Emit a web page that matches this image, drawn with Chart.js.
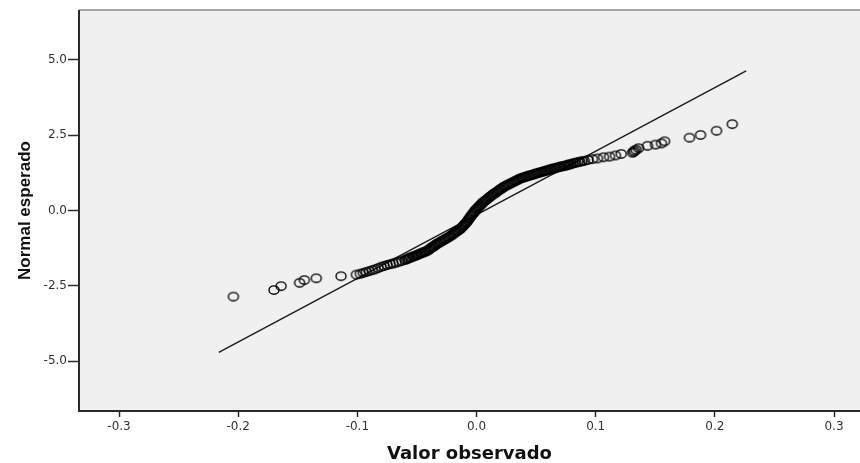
<!DOCTYPE html>
<html>
<head>
<meta charset="utf-8">
<script src="https://cdn.jsdelivr.net/npm/chart.js@4.4.8/dist/chart.umd.min.js"></script>
<style>
  html, body { margin: 0; padding: 0; background: #ffffff; }
  #wrap { width: 860px; height: 463px; }
</style>
</head>
<body>
<div id="wrap"><canvas id="chart" width="860" height="463"></canvas></div>
<script>
/*  Data  */

const xTickValues = [-0.3, -0.2, -0.1, 0.0, 0.1, 0.2, 0.3];
const yTickValues = [-5.0, -2.5, 0.0, 2.5, 5.0];

// observed value (x) / expected normal (y), lower tail
const lowerTailObs = [-0.2040, -0.1700, -0.1640, -0.1485, -0.1445, -0.1345, -0.1137,
    -0.1008, -0.0975, -0.0950, -0.0925, -0.0900, -0.0875, -0.0850, -0.0825, -0.0800,
    -0.0775, -0.0750, -0.0725, -0.0700, -0.0675, -0.0650, -0.0625];
const lowerTailExp = [-2.86, -2.64, -2.51, -2.40, -2.31, -2.25, -2.18,
    -2.13, -2.10, -2.07, -2.04, -2.01, -1.98, -1.95, -1.91, -1.87,
    -1.84, -1.81, -1.78, -1.76, -1.73, -1.70, -1.67];

// dense middle part
const bodyObs = [
    -0.0600, -0.0589, -0.0578, -0.0567, -0.0556, -0.0544, -0.0533, -0.0522, -0.0511,
    -0.0500, -0.0489, -0.0478, -0.0466, -0.0455, -0.0444, -0.0433, -0.0421,
    -0.0410, -0.0400, -0.0390, -0.0380, -0.0370, -0.0360, -0.0350, -0.0340,
    -0.0330, -0.0319, -0.0308, -0.0297, -0.0286, -0.0275, -0.0264, -0.0253, -0.0242, -0.0231,
    -0.0220, -0.0210, -0.0200, -0.0190, -0.0180, -0.0170, -0.0160, -0.0150, -0.0140,
    -0.0130, -0.0122, -0.0113, -0.0105, -0.0097, -0.0088,
    -0.0080, -0.0072, -0.0064, -0.0056, -0.0048,
    -0.0040, -0.0032, -0.0024, -0.0016, -0.0008,
    0.0000, 0.0009, 0.0017, 0.0026, 0.0034, 0.0043, 0.0051,
    0.0060, 0.0070, 0.0080, 0.0090, 0.0100, 0.0110, 0.0120,
    0.0130, 0.0140, 0.0150, 0.0160, 0.0170, 0.0180, 0.0190, 0.0200, 0.0210, 0.0220,
    0.0230, 0.0242, 0.0253, 0.0265, 0.0277, 0.0288, 0.0300, 0.0312, 0.0323, 0.0335, 0.0347, 0.0358,
    0.0370, 0.0382, 0.0393, 0.0405, 0.0417, 0.0428, 0.0440, 0.0452, 0.0463, 0.0475, 0.0487, 0.0498,
    0.0510, 0.0522, 0.0533, 0.0545, 0.0557, 0.0568, 0.0580, 0.0592, 0.0603, 0.0615, 0.0627, 0.0638,
    0.0650, 0.0662, 0.0673, 0.0685, 0.0697, 0.0708, 0.0720, 0.0732, 0.0743, 0.0755, 0.0767, 0.0778,
    0.0790, 0.0805, 0.0820, 0.0835, 0.0852, 0.0868, 0.0885
];
const bodyExp = [
    -1.64, -1.62, -1.60, -1.58, -1.56, -1.55, -1.53, -1.51, -1.50,
    -1.48, -1.46, -1.44, -1.42, -1.40, -1.39, -1.37, -1.35,
    -1.33, -1.30, -1.27, -1.24, -1.21, -1.19, -1.16, -1.13,
    -1.10, -1.08, -1.05, -1.03, -1.00, -0.98, -0.95, -0.93, -0.90, -0.88,
    -0.85, -0.82, -0.79, -0.76, -0.73, -0.70, -0.68, -0.65, -0.62,
    -0.59, -0.55, -0.52, -0.48, -0.44, -0.41,
    -0.37, -0.33, -0.28, -0.24, -0.19,
    -0.15, -0.11, -0.07, -0.03, 0.01,
    0.05, 0.08, 0.12, 0.15, 0.19, 0.22, 0.26,
    0.29, 0.32, 0.35, 0.38, 0.42, 0.45, 0.48,
    0.51, 0.54, 0.57, 0.59, 0.62, 0.65, 0.68, 0.71, 0.73, 0.76,
    0.79, 0.81, 0.84, 0.86, 0.88, 0.91, 0.93, 0.95, 0.98, 1.00, 1.02, 1.05,
    1.07, 1.08, 1.10, 1.11, 1.13, 1.14, 1.16, 1.17, 1.18, 1.20, 1.21, 1.23,
    1.24, 1.25, 1.27, 1.28, 1.29, 1.31, 1.32, 1.33, 1.35, 1.36, 1.37, 1.39,
    1.40, 1.41, 1.42, 1.44, 1.45, 1.46, 1.47, 1.48, 1.49, 1.50, 1.52, 1.53,
    1.54, 1.56, 1.58, 1.59, 1.61, 1.62, 1.64
];

// upper tail
const upperTailObs = [0.0905, 0.0935, 0.0973, 0.1015, 0.1066, 0.1116, 0.1166, 0.1214,
    0.1309, 0.1318, 0.1326, 0.1340, 0.1360, 0.1435, 0.1502, 0.1552, 0.1578,
    0.1787, 0.1880, 0.2014, 0.2146];
const upperTailExp = [1.65, 1.68, 1.71, 1.73, 1.77, 1.79, 1.83, 1.88,
    1.92, 1.95, 1.99, 2.02, 2.07, 2.15, 2.19, 2.23, 2.30,
    2.42, 2.51, 2.65, 2.87];

// reference line end points
const refLineObs = [-0.2163, 0.2263];
const refLineExp = [-4.71, 4.64];


/*  Helpers  */

function toPoints(xs, ys) {
    return xs.map((x, i) => ({ x: x, y: ys[i] }));
}

function makeRing() {
    // slightly wide ellipse, like the SPSS marker
    const c = document.createElement('canvas');
    c.width = 14;
    c.height = 12;
    const g = c.getContext('2d');
    g.strokeStyle = '#000000';
    g.lineWidth = 1.35;
    g.beginPath();
    g.ellipse(7, 6, 5.0, 4.2, 0, 0, Math.PI * 2);
    g.stroke();
    return c;
}

const plotFrame = {
    id: 'plotFrame',
    beforeDraw(chart) {
        const { ctx, chartArea: a } = chart;
        ctx.save();
        ctx.fillStyle = '#f0f0f0';
        ctx.fillRect(a.left, a.top, a.right - a.left, a.bottom - a.top);
        ctx.restore();
    },
    afterDraw(chart) {
        const { ctx, chartArea: a } = chart;
        ctx.save();
        ctx.strokeStyle = '#8a8a8a';
        ctx.lineWidth = 1.5;
        ctx.beginPath();
        ctx.moveTo(a.left, a.top);
        ctx.lineTo(a.right, a.top);
        ctx.stroke();
        ctx.strokeStyle = '#2a2a2a';
        ctx.lineWidth = 2;
        ctx.beginPath();
        ctx.moveTo(a.left, a.top);
        ctx.lineTo(a.left, a.bottom);
        ctx.lineTo(a.right, a.bottom);
        ctx.stroke();
        ctx.restore();
    }
};


/*  Chart  */

const observed = toPoints(lowerTailObs, lowerTailExp)
    .concat(toPoints(bodyObs, bodyExp))
    .concat(toPoints(upperTailObs, upperTailExp));

const tickFont = { family: '"DejaVu Sans", sans-serif', size: 12 };

new Chart(document.getElementById('chart').getContext('2d'), {
    type: 'scatter',
    data: {
        datasets: [{
            label: 'Observado',
            data: observed,
            pointStyle: makeRing(),
            pointRadius: 5,
            pointHoverRadius: 5
        }, {
            label: 'Recta',
            data: toPoints(refLineObs, refLineExp),
            showLine: true,
            borderColor: '#1a1a1a',
            borderWidth: 1.4,
            pointRadius: 0,
            fill: false
        }]
    },
    options: {
        responsive: false,
        animation: false,
        layout: { autoPadding: false, padding: { top: 10, right: 0, bottom: 0, left: 0 } },
        plugins: {
            legend: { display: false },
            tooltip: { enabled: false }
        },
        scales: {
            x: {
                type: 'linear',
                min: -0.3336,
                max: 0.3218,
                afterBuildTicks: s => { s.ticks = xTickValues.map(v => ({ value: v })); },
                afterFit: s => { s.height = 52; s.paddingLeft = 0; s.paddingRight = 0; },
                border: { display: false },
                grid: {
                    drawOnChartArea: false,
                    drawTicks: true,
                    tickLength: 6,
                    tickColor: '#2a2a2a',
                    tickWidth: 1.5
                },
                ticks: {
                    autoSkip: false,
                    maxRotation: 0,
                    padding: 3,
                    color: '#333333',
                    font: tickFont,
                    callback: v => v.toFixed(1)
                },
                title: {
                    display: true,
                    text: 'Valor observado',
                    color: '#111111',
                    font: { family: '"DejaVu Sans", sans-serif', size: 18, weight: 'bold', lineHeight: 1 },
                    padding: { top: 0, bottom: 0 }
                }
            },
            y: {
                type: 'linear',
                min: -6.66,
                max: 6.66,
                afterBuildTicks: s => { s.ticks = yTickValues.map(v => ({ value: v })); },
                afterFit: s => { s.width = 79; s.paddingTop = 0; s.paddingBottom = 0; },
                border: { display: false },
                grid: {
                    drawOnChartArea: false,
                    drawTicks: true,
                    tickLength: 11,
                    tickColor: '#2a2a2a',
                    tickWidth: 1.5
                },
                ticks: {
                    autoSkip: false,
                    padding: 1,
                    color: '#333333',
                    font: tickFont,
                    callback: v => v.toFixed(1)
                },
                title: {
                    display: true,
                    text: 'Normal esperado',
                    color: '#111111',
                    font: { family: '"Liberation Sans", Arial, sans-serif', size: 17, weight: 'bold', lineHeight: 1 },
                    padding: { top: 17, bottom: 0 }
                }
            }
        }
    },
    plugins: [plotFrame]
});
</script>
</body>
</html>
